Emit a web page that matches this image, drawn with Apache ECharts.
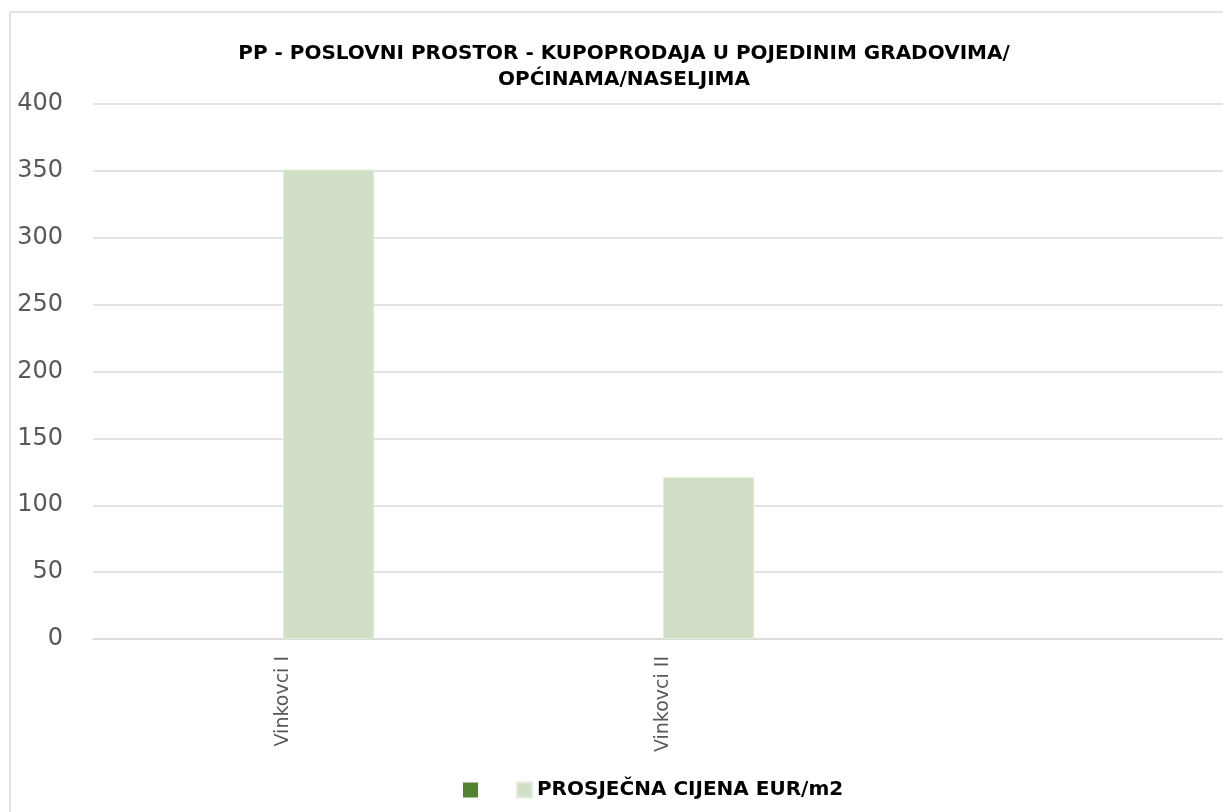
<!DOCTYPE html>
<html>
<head>
<meta charset="utf-8">
<script src="https://cdn.jsdelivr.net/npm/echarts@6/dist/echarts.min.js"></script>
<style>
	html, body { margin: 0; padding: 0; background: #fff; overflow: hidden; }
	#chart { width: 1223px; height: 812px; }
</style>
</head>
<body>
<div id="chart"></div>
<script>
	var categories = [ 'Vinkovci I', 'Vinkovci II', '' ];
	var series1Name = ' ';
	var series1Data = [ null, null, null ];
	var series2Name = 'PROSJEČNA CIJENA EUR/m2';
	var series2Data = [ 351, 121, null ];
	var yTicks = { min : 0, max : 400, interval : 50 };

	var chart = echarts.init(document.getElementById('chart'));
	var options = {
		backgroundColor : '#fff',
		animation : false,
		title : {
			text : 'PP - POSLOVNI PROSTOR - KUPOPRODAJA U POJEDINIM GRADOVIMA/\nOPĆINAMA/NASELJIMA',
			left : 619,
			top : 36,
			textAlign : 'center',
			textStyle : {
				fontFamily : 'DejaVu Sans',
				fontWeight : 'bold',
				fontSize : 20,
				lineHeight : 26,
				color : '#000'
			}
		},
		// chart area border (cut off on the right / bottom like the source)
		graphic : [ {
			type : 'rect',
			shape : { x : 10, y : 12, width : 1300, height : 900 },
			style : { fill : 'none', stroke : '#d9d9d9', lineWidth : 1.5 },
			silent : true
		} ],
		legend : {
			data : [ series1Name, series2Name ],
			left : 458,
			top : 775,
			itemWidth : 15,
			itemHeight : 15,
			itemGap : 26,
			icon : 'rect',
			textStyle : {
				fontFamily : 'DejaVu Sans',
				fontWeight : 'bold',
				fontSize : 20,
				color : '#000'
			}
		},
		// plot area runs past the right edge of the picture (third category is empty)
		grid : {
			left : 93,
			width : 1140,
			top : 104,
			bottom : 173,
			containLabel : false,
			outerBoundsMode : 'none'
		},
		xAxis : [ {
			type : 'category',
			data : categories,
			axisTick : { show : false },
			axisLine : { lineStyle : { color : '#d9d9d9', width : 1.5 } },
			axisLabel : {
				rotate : 90,
				margin : 17,
				fontFamily : 'DejaVu Sans',
				fontSize : 19,
				color : '#595959'
			}
		} ],
		yAxis : [ {
			type : 'value',
			min : yTicks.min,
			max : yTicks.max,
			interval : yTicks.interval,
			axisLine : { show : false },
			axisTick : { show : false },
			splitLine : { lineStyle : { color : '#d9d9d9', width : 1.5 } },
			axisLabel : {
				margin : 30,
				fontFamily : 'DejaVu Sans',
				fontSize : 24,
				color : '#595959'
			}
		} ],
		series : [ {
			name : series1Name,
			type : 'bar',
			data : series1Data,
			barGap : '0%',
			barCategoryGap : '52%',
			itemStyle : { color : '#548235' }
		}, {
			name : series2Name,
			type : 'bar',
			data : series2Data,
			barGap : '0%',
			barCategoryGap : '52%',
			itemStyle : { color : '#d0dfc6', borderColor : '#e3ecdc', borderWidth : 1 }
		} ]
	};
	chart.setOption(options);
</script>
</body>
</html>
